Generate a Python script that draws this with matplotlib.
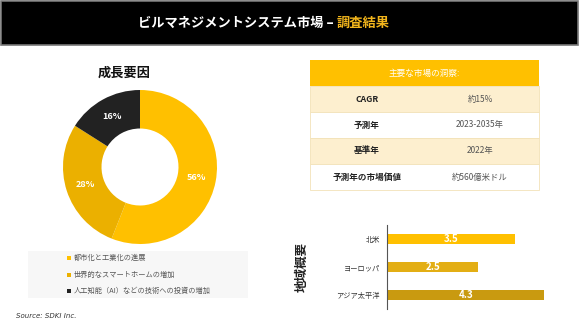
import matplotlib.pyplot as plt
import matplotlib.patches as patches

plt.rcParams['font.family'] = ['Noto Sans CJK JP', 'DejaVu Sans']

# data
title_main = "ビルマネジメントシステム市場 – "
title_accent = "調査結果"

pie_title = "成長要因"
pie_values = [56, 28, 16]
pie_colors = ['#FFC000', '#EBB000', '#222222']
legend_labels = ["都市化と工業化の進展",
                 "世界的なスマートホームの増加",
                 "人工知能（AI）などの技術への投資の増加"]

table_header = "主要な市場の洞察:"
table_keys = ["CAGR", "予測年", "基準年", "予測年の市場価値"]
table_vals = ["約15%", "2023-2035年", "2022年", "約560億米ドル"]

regions = ["北米", "ヨーロッパ", "アジア太平洋"]
region_values = [3.5, 2.5, 4.3]
region_colors = ['#FFC000', '#E3AE14', '#C99A10']

W, H = 580, 327
fig = plt.figure(figsize=(W / 100, H / 100), dpi=100)

def frac(x0, y0, x1, y1):
    # pixel box (top-left origin) -> figure fraction
    return [x0 / W, 1 - y1 / H, (x1 - x0) / W, (y1 - y0) / H]

# background canvas in pixel coords
bg = fig.add_axes([0, 0, 1, 1])
bg.set_xlim(0, W)
bg.set_ylim(H, 0)
bg.axis('off')

# title bar
bg.add_patch(patches.Rectangle((1, 1), W - 3, 44, facecolor='black',
                               edgecolor='#777777', lw=1.2))
t1 = bg.text(138, 23, title_main, color='white', fontsize=9.5,
             fontweight='bold', va='center', ha='left')
fig.canvas.draw()
bb = t1.get_window_extent()
bg.text(bb.x1, 23, title_accent, color='#F2B51C', fontsize=9.5,
        fontweight='bold', va='center', ha='left')

# pie title
bg.text(124, 73, pie_title, fontsize=9.5, fontweight='bold', ha='center',
        va='center', color='#111111')

# legend box
bg.add_patch(patches.Rectangle((28, 251), 220, 47, facecolor='#F7F7F7',
                               edgecolor='none'))
for i, lab in enumerate(legend_labels):
    y = 258 + i * 16.5
    bg.add_patch(patches.Rectangle((67, y - 2), 4, 4, facecolor=pie_colors[i],
                                   edgecolor='none'))
    bg.text(74, y, lab, fontsize=5.2, color='#555555', va='center', ha='left')

bg.text(16, 316, "Source: SDKI Inc.", fontsize=5, style='italic',
        color='#333333', va='center', ha='left', family='DejaVu Sans')

# table
tx0, tx1 = 310, 539
bg.add_patch(patches.Rectangle((tx0, 60), tx1 - tx0, 26, facecolor='#FFC000',
                               edgecolor='none'))
bg.text((tx0 + tx1) / 2, 73, table_header, color='white', fontsize=6.2,
        ha='center', va='center')
row_h = 26
for i, (k, v) in enumerate(zip(table_keys, table_vals)):
    y0 = 86 + i * row_h
    fc = '#FDEFCF' if i % 2 == 0 else 'white'
    bg.add_patch(patches.Rectangle((tx0, y0), tx1 - tx0, row_h, facecolor=fc,
                                   edgecolor='#F3E2B8', lw=0.6))
    bg.text(367, y0 + row_h / 2, k, fontsize=6.2, fontweight='bold',
            color='#222222', ha='center', va='center')
    bg.text(480, y0 + row_h / 2, v, fontsize=6, color='#555555',
            ha='center', va='center')

# region label
bg.text(302, 267, "地域概要", rotation=90, fontsize=9, fontweight='bold',
        color='#222222', ha='center', va='center')

# donut
ax1 = fig.add_axes(frac(63, 90, 217, 244))
wedges, texts, autotexts = ax1.pie(
    pie_values, colors=pie_colors, startangle=90, counterclock=False,
    wedgeprops=dict(width=0.5, edgecolor='none'), autopct='%d%%',
    pctdistance=0.75, radius=1)
for t in autotexts:
    t.set_color('white')
    t.set_fontsize(6.5)
    t.set_fontweight('bold')
ax1.set_xlim(-1, 1)
ax1.set_ylim(-1, 1)
ax1.set_aspect('equal')

# bars
ax2 = fig.add_axes(frac(387, 225, 557, 309))
ax2.patch.set_alpha(0)
ypos = list(range(len(regions)))
bars = ax2.barh(ypos, region_values, height=0.39, color=region_colors)
for b, v in zip(bars, region_values):
    ax2.text(b.get_width() / 2, b.get_y() + b.get_height() / 2, f"{v}",
             color='white', fontsize=7, fontweight='bold', ha='center',
             va='center')
ax2.set_xlim(0, 170 / 36.6)
ax2.set_ylim(2.5, -0.5)
ax2.set_yticks(ypos)
ax2.set_yticklabels(regions, fontsize=5.2, color='#333333')
ax2.tick_params(axis='y', length=0, pad=5)
ax2.set_xticks([])
for s in ['top', 'right', 'bottom']:
    ax2.spines[s].set_visible(False)
ax2.spines['left'].set_color('#555555')
ax2.spines['left'].set_linewidth(0.8)

fig.savefig('out.png', dpi=100)
